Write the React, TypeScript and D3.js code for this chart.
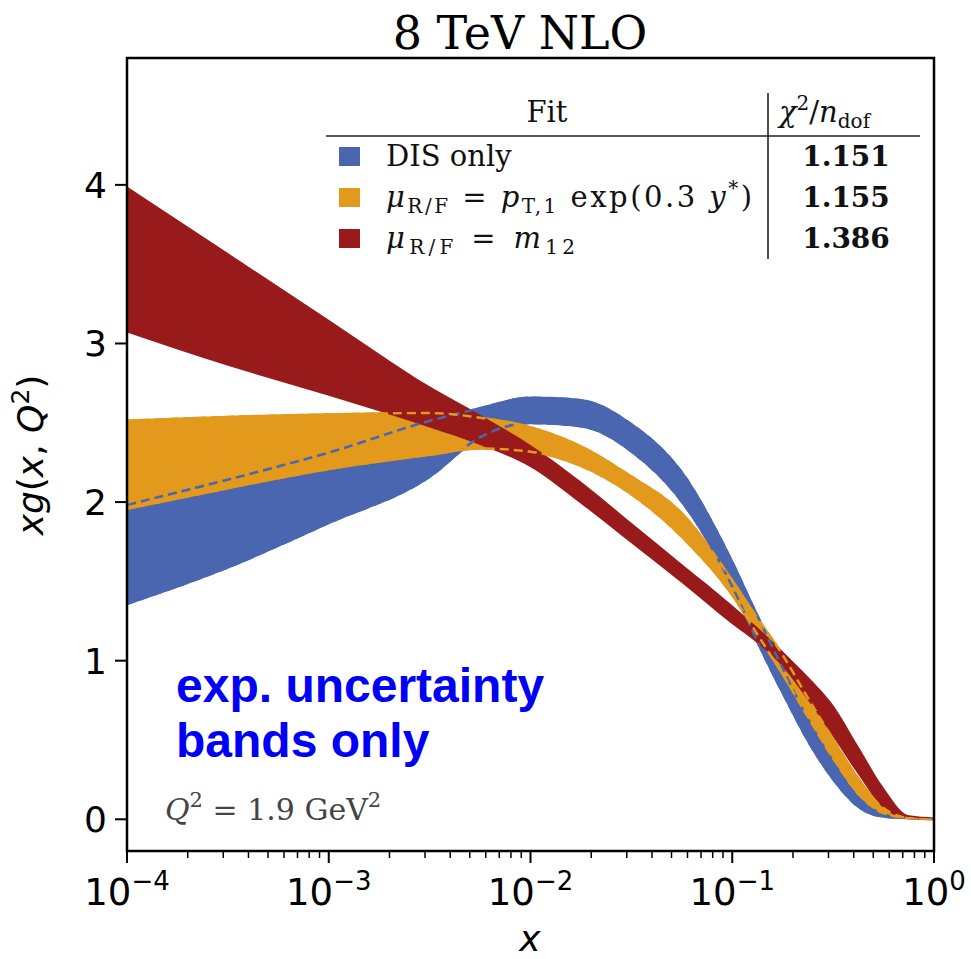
import React from "react";
import * as d3 from "d3";

// log10(x) grid of the bands
const logX = [-4, -3.5, -3, -2.5, -2.25, -2, -1.75, -1.5, -1.25, -1, -0.875, -0.75, -0.625, -0.5, -0.375, -0.25, -0.125, 0];

// DIS only
const blueUpper = [1.99, 2.15, 2.32, 2.52, 2.6, 2.665, 2.65, 2.5, 2.2, 1.64, 1.3, 0.97, 0.65, 0.38, 0.15, 0.04, 0.01, 0.005];
const blueLower = [1.35, 1.58, 1.86, 2.15, 2.4, 2.49, 2.47, 2.31, 1.99, 1.45, 1.1, 0.78, 0.48, 0.24, 0.07, 0.01, 0.0, -0.005];
// mu = pT,1 exp(0.3 y*)
const orangeUpper = [2.52, 2.545, 2.56, 2.57, 2.54, 2.48, 2.36, 2.17, 1.94, 1.52, 1.28, 1.05, 0.78, 0.52, 0.27, 0.08, 0.015, 0.005];
const orangeLower = [1.95, 2.08, 2.2, 2.29, 2.33, 2.31, 2.22, 2.04, 1.77, 1.4, 1.15, 0.9, 0.63, 0.37, 0.15, 0.03, 0.0, -0.005];
// mu = m12
const redUpper = [3.99, 3.57, 3.15, 2.73, 2.55, 2.36, 2.13, 1.87, 1.61, 1.35, 1.21, 1.06, 0.9, 0.72, 0.46, 0.2, 0.025, 0.012];
const redLower = [3.07, 2.86, 2.67, 2.47, 2.36, 2.22, 1.99, 1.74, 1.49, 1.23, 1.11, 0.96, 0.75, 0.52, 0.28, 0.07, 0.002, -0.008];

const seriesColors = ["#4a66b0", "#e39a1c", "#981a1a"];
const chi2Values = ["1.151", "1.155", "1.386"];
const yTicks = [0, 1, 2, 3, 4];
const xTickExps = [-4, -3, -2, -1, 0];

const SERIF = "'DejaVu Serif', serif";
const SANS = "'DejaVu Sans', sans-serif";

export default function App() {
  const W = 971, H = 959;
  const m = { left: 127, right: 934, top: 58, bottom: 851 };
  const x = d3.scaleLog().domain([1e-4, 1]).range([m.left, m.right]);
  const y = d3.scaleLinear().domain([-0.2, 4.8]).range([m.bottom, m.top]);

  const mk = (up: number[], lo: number[]) =>
    logX.map((lx, i) => ({ x: Math.pow(10, lx), u: up[i], l: lo[i] }));
  const bands = [mk(blueUpper, blueLower), mk(orangeUpper, orangeLower), mk(redUpper, redLower)];

  const area = d3.area<any>().x((d) => x(d.x)).y0((d) => y(d.l)).y1((d) => y(d.u)).curve(d3.curveMonotoneX);
  const lineU = d3.line<any>().x((d) => x(d.x)).y((d) => y(d.u)).curve(d3.curveMonotoneX);
  const lineL = d3.line<any>().x((d) => x(d.x)).y((d) => y(d.l)).curve(d3.curveMonotoneX);

  const minors: number[] = [];
  for (let e = -4; e < 0; e++) for (let k = 2; k <= 9; k++) minors.push(k * Math.pow(10, e));

  const rowsY = [166, 207, 248];
  const subDy = 6;

  return (
    <svg width={W} height={H} style={{ position: "absolute", left: 0, top: 0, background: "#fff" }}>
      <defs>
        {bands.map((b, i) => (
          <clipPath id={`clip${i}`} key={i}>
            <path d={area(b) || ""} />
          </clipPath>
        ))}
        <clipPath id="plotclip">
          <rect x={m.left} y={m.top} width={m.right - m.left} height={m.bottom - m.top} />
        </clipPath>
      </defs>
      <rect x={0} y={0} width={W} height={H} fill="#fff" />

      {/* title */}
      <text x={520} y={49} textAnchor="middle" fontFamily={SERIF} fontSize={46}>8 TeV NLO</text>

      <g clipPath="url(#plotclip)">
        {bands.map((b, i) => (
          <path key={i} d={area(b) || ""} fill={seriesColors[i]} />
        ))}
        {[0, 1].map((i) => (
          <g key={i} clipPath={`url(#clip${i})`}>
            <path d={lineU(bands[i]) || ""} fill="none" stroke={seriesColors[i]} strokeWidth={5} strokeDasharray="9 5" />
            <path d={lineL(bands[i]) || ""} fill="none" stroke={seriesColors[i]} strokeWidth={5} strokeDasharray="9 5" />
          </g>
        ))}
      </g>

      {/* frame */}
      <rect x={m.left} y={m.top} width={m.right - m.left} height={m.bottom - m.top} fill="none" stroke="#000" strokeWidth={2.5} />

      {/* y ticks */}
      {yTicks.map((t) => (
        <g key={t}>
          <line x1={m.left - 12} x2={m.left} y1={y(t)} y2={y(t)} stroke="#000" strokeWidth={2} />
          <text x={107} y={y(t) + 13} textAnchor="end" fontFamily={SANS} fontSize={36}>{t}</text>
        </g>
      ))}
      {/* x ticks */}
      {xTickExps.map((e) => {
        const px = x(Math.pow(10, e));
        return (
          <g key={e}>
            <line x1={px} x2={px} y1={m.bottom} y2={m.bottom + 12} stroke="#000" strokeWidth={2} />
            <text x={px} y={905} textAnchor="middle" fontFamily={SANS} fontSize={37}>
              10<tspan fontSize={26} dy={-15}>{e < 0 ? `\u2212${-e}` : `${e}`}</tspan>
            </text>
          </g>
        );
      })}
      {minors.map((v, i) => (
        <line key={i} x1={x(v)} x2={x(v)} y1={m.bottom} y2={m.bottom + 7} stroke="#000" strokeWidth={1.5} />
      ))}

      {/* axis labels */}
      <text x={530} y={951} textAnchor="middle" fontFamily={SANS} fontStyle="italic" fontSize={36}>x</text>
      <text transform="translate(43,455) rotate(-90)" textAnchor="middle" fontFamily={SANS} fontSize={36}>
        <tspan fontStyle="italic">xg</tspan>(<tspan fontStyle="italic">x</tspan>, <tspan fontStyle="italic">Q</tspan>
        <tspan fontSize={25} dy={-14}>2</tspan><tspan dy={14}>)</tspan>
      </text>

      {/* legend table */}
      <g fontFamily={SERIF} fill="#111">
        <text x={547} y={122} textAnchor="middle" fontSize={29}>Fit</text>
        <text x={779} y={122} fontSize={29} style={{ whiteSpace: "pre" }}>
          <tspan fontStyle="italic">χ</tspan><tspan fontSize={20} dy={-12}>2</tspan><tspan dy={12}>/</tspan>
          <tspan fontStyle="italic">n</tspan><tspan fontSize={20} dy={subDy}>dof</tspan>
        </text>
        <line x1={326} x2={920} y1={136} y2={136} stroke="#222" strokeWidth={1.6} />
        <line x1={768} x2={768} y1={93} y2={259} stroke="#222" strokeWidth={1.6} />
        {seriesColors.map((c, i) => (
          <rect key={i} x={339} y={rowsY[i] - 19} width={21} height={19} fill={c} />
        ))}
        <text x={386} y={rowsY[0]} fontSize={29}>DIS only</text>
        <text x={386} y={rowsY[1]} fontSize={29} style={{ whiteSpace: "pre" }} textLength={366} lengthAdjust="spacing">
          <tspan fontStyle="italic">μ</tspan><tspan fontSize={20} dy={subDy}>R/F</tspan><tspan dy={-subDy}> = </tspan>
          <tspan fontStyle="italic">p</tspan><tspan fontSize={20} dy={subDy}>T,1</tspan><tspan dy={-subDy}> exp(0.3 </tspan>
          <tspan fontStyle="italic">y</tspan><tspan fontSize={20} dy={-12}>*</tspan><tspan dy={12}>)</tspan>
        </text>
        <text x={386} y={rowsY[2]} fontSize={29} style={{ whiteSpace: "pre" }} textLength={189} lengthAdjust="spacing">
          <tspan fontStyle="italic">μ</tspan><tspan fontSize={20} dy={subDy}>R/F</tspan><tspan dy={-subDy}> = </tspan>
          <tspan fontStyle="italic">m</tspan><tspan fontSize={20} dy={subDy}>12</tspan>
        </text>
        {chi2Values.map((v, i) => (
          <text key={v} x={846} y={rowsY[i]} textAnchor="middle" fontSize={28} fontWeight="bold">{v}</text>
        ))}
      </g>

      {/* annotations */}
      <g fontFamily="'Liberation Sans', Arial, sans-serif" fontWeight="bold" fontSize={48} fill="#0000f5">
        <text x={176} y={702}>exp. uncertainty</text>
        <text x={176} y={757}>bands only</text>
      </g>
      <text x={165} y={820} fontFamily={SERIF} fontSize={30} fill="#444" style={{ whiteSpace: "pre" }}>
        <tspan fontStyle="italic">Q</tspan><tspan fontSize={21} dy={-13}>2</tspan><tspan dy={13}> = 1.9 GeV</tspan>
        <tspan fontSize={21} dy={-13}>2</tspan>
      </text>
    </svg>
  );
}
